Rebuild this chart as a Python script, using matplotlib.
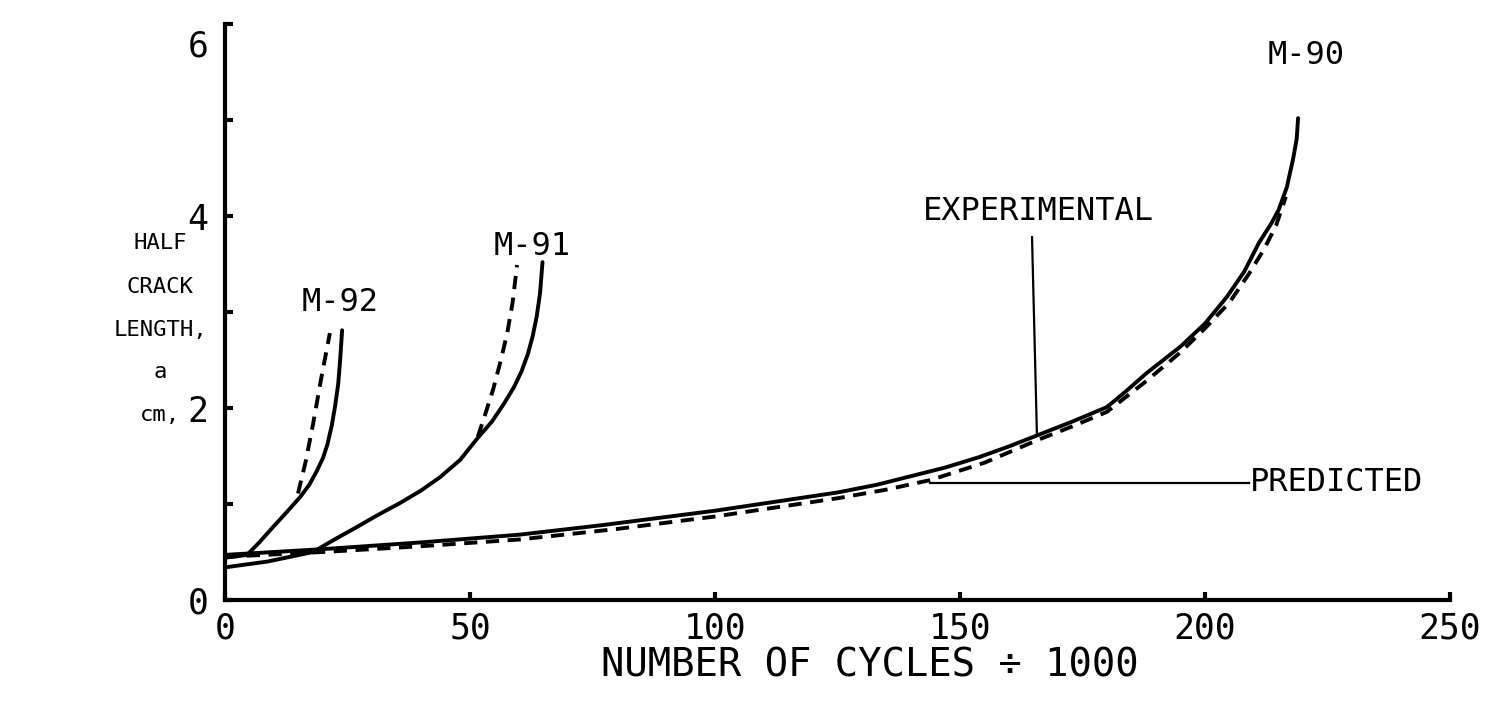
import matplotlib
matplotlib.use("Agg")
import matplotlib.pyplot as plt
import matplotlib.transforms as mtransforms

# ---- data ----
m90_exp_x = [0, 20, 40, 60, 77, 100, 125, 133, 140, 147, 154, 160, 166, 173, 180, 184, 188, 191.5,
             195, 200, 204.5, 208, 211, 213.5, 215, 216.7, 218, 218.7, 219]
m90_exp_y = [0.47, 0.53, 0.60, 0.68, 0.78, 0.93, 1.12, 1.20, 1.29, 1.38, 1.49, 1.60, 1.72, 1.86, 2.01,
             2.18, 2.36, 2.50, 2.64, 2.88, 3.16, 3.42, 3.72, 3.92, 4.06, 4.30, 4.60, 4.80, 5.02]
m90_pred_x = [0, 20, 40, 60, 80, 100, 125, 135, 144, 155, 166, 173, 180, 188, 195, 200, 205, 209, 212,
              214.5, 216.5]
m90_pred_y = [0.45, 0.50, 0.56, 0.63, 0.74, 0.87, 1.06, 1.15, 1.25, 1.43, 1.67, 1.81, 1.96, 2.28, 2.58,
              2.83, 3.10, 3.40, 3.65, 3.90, 4.20]

m91_exp_x = [0, 8.6, 18, 22, 26.9, 31, 35.7, 40, 43.9, 48, 51.6, 54.5, 57, 59, 60.5, 61.8, 62.8, 63.6,
             64.3, 64.8]
m91_exp_y = [0.34, 0.40, 0.50, 0.62, 0.76, 0.88, 1.01, 1.14, 1.28, 1.46, 1.69, 1.86, 2.05, 2.22, 2.38,
             2.56, 2.75, 2.95, 3.20, 3.52]
m91_pred_x = [51.6, 53.2, 54.7, 56.2, 57.6, 58.7, 59.6]
m91_pred_y = [1.70, 1.95, 2.19, 2.48, 2.78, 3.10, 3.49]

m92_exp_x = [0, 4.5, 7, 9.8, 12.5, 15.3, 17.2, 18.8, 20.0, 20.9, 21.8, 22.5, 23.1, 23.5, 23.9]
m92_exp_y = [0.44, 0.47, 0.60, 0.76, 0.91, 1.07, 1.20, 1.35, 1.48, 1.62, 1.82, 2.03, 2.25, 2.50, 2.81]
m92_pred_x = [14.9, 16.5, 18.0, 19.6, 21.4]
m92_pred_y = [1.11, 1.45, 1.84, 2.30, 2.78]

x_ticks = [0, 50, 100, 150, 200, 250]
x_tick_labels = ["0", "50", "100", "150", "200", "250"]
y_ticks = [0, 1, 2, 3, 4, 5, 6]
y_tick_labels = ["0", "", "2", "", "4", "", "6"]
y_label_lines = ["HALF", "CRACK", "LENGTH,", "a", "cm,"]

# ---- figure ----
FONT = "DejaVu Sans Mono"
plt.rcParams["font.family"] = [FONT, "DejaVu Sans"]

fig = plt.figure(figsize=(15.02, 7.07), dpi=100)
ax = fig.add_axes([225 / 1502, 107 / 707, 1225 / 1502, 576 / 707])
ax.set_xlim(0, 250)
ax.set_ylim(0, 6)

lw = 2.8
dash = (3.4, 2.2)
for xs, ys in [(m90_exp_x, m90_exp_y), (m91_exp_x, m91_exp_y), (m92_exp_x, m92_exp_y)]:
    ax.plot(xs, ys, color="black", lw=lw, solid_capstyle="round", solid_joinstyle="round")
for xs, ys in [(m90_pred_x, m90_pred_y), (m91_pred_x, m91_pred_y), (m92_pred_x, m92_pred_y)]:
    ax.plot(xs, ys, color="black", lw=lw, linestyle=(0, dash), dash_capstyle="butt")

# annotations
ax.text(23.5, 3.10, "M-92", ha="center", va="center", fontsize=23)
ax.text(62.7, 3.68, "M-91", ha="center", va="center", fontsize=23)
ax.text(220.6, 5.67, "M-90", ha="center", va="center", fontsize=23)
ax.text(165.9, 4.05, "EXPERIMENTAL", ha="center", va="center", fontsize=23)
ax.plot([164.7, 165.7], [3.78, 1.72], color="black", lw=1.6)
ax.plot([143.9, 209.0], [1.22, 1.22], color="black", lw=1.6)
ax.text(209.2, 1.22, "PREDICTED", ha="left", va="center", fontsize=23)

# axes styling
for s in ["top", "right"]:
    ax.spines[s].set_visible(False)
for s in ["left", "bottom"]:
    ax.spines[s].set_linewidth(3)
ax.set_xticks(x_ticks)
ax.set_xticklabels(x_tick_labels)
ax.set_yticks(y_ticks)
ax.set_yticklabels(y_tick_labels)
ax.tick_params(axis="x", direction="in", length=6, width=3, pad=8, labelsize=25)
ax.tick_params(axis="y", direction="in", length=6, width=3, pad=12, labelsize=25)

# top "6" label sits slightly below its tick in the reference
lab6 = ax.get_yticklabels()[-1]
lab6.set_transform(lab6.get_transform() + mtransforms.ScaledTranslation(0, -14 / 72, fig.dpi_scale_trans))

ax.set_xlabel("NUMBER OF CYCLES \u00f7 1000", fontsize=28, labelpad=2)
ax.xaxis.set_label_coords((870 - 225) / 1225, -0.081)

# stacked y-axis title, one text per line
line_y_px = [243, 287, 330, 372, 415]
for txt, ypx in zip(y_label_lines, line_y_px):
    fig.text(160 / 1502, (707 - ypx) / 707, txt, ha="center", va="center", fontsize=16)

fig.savefig("out.png", dpi=100)
